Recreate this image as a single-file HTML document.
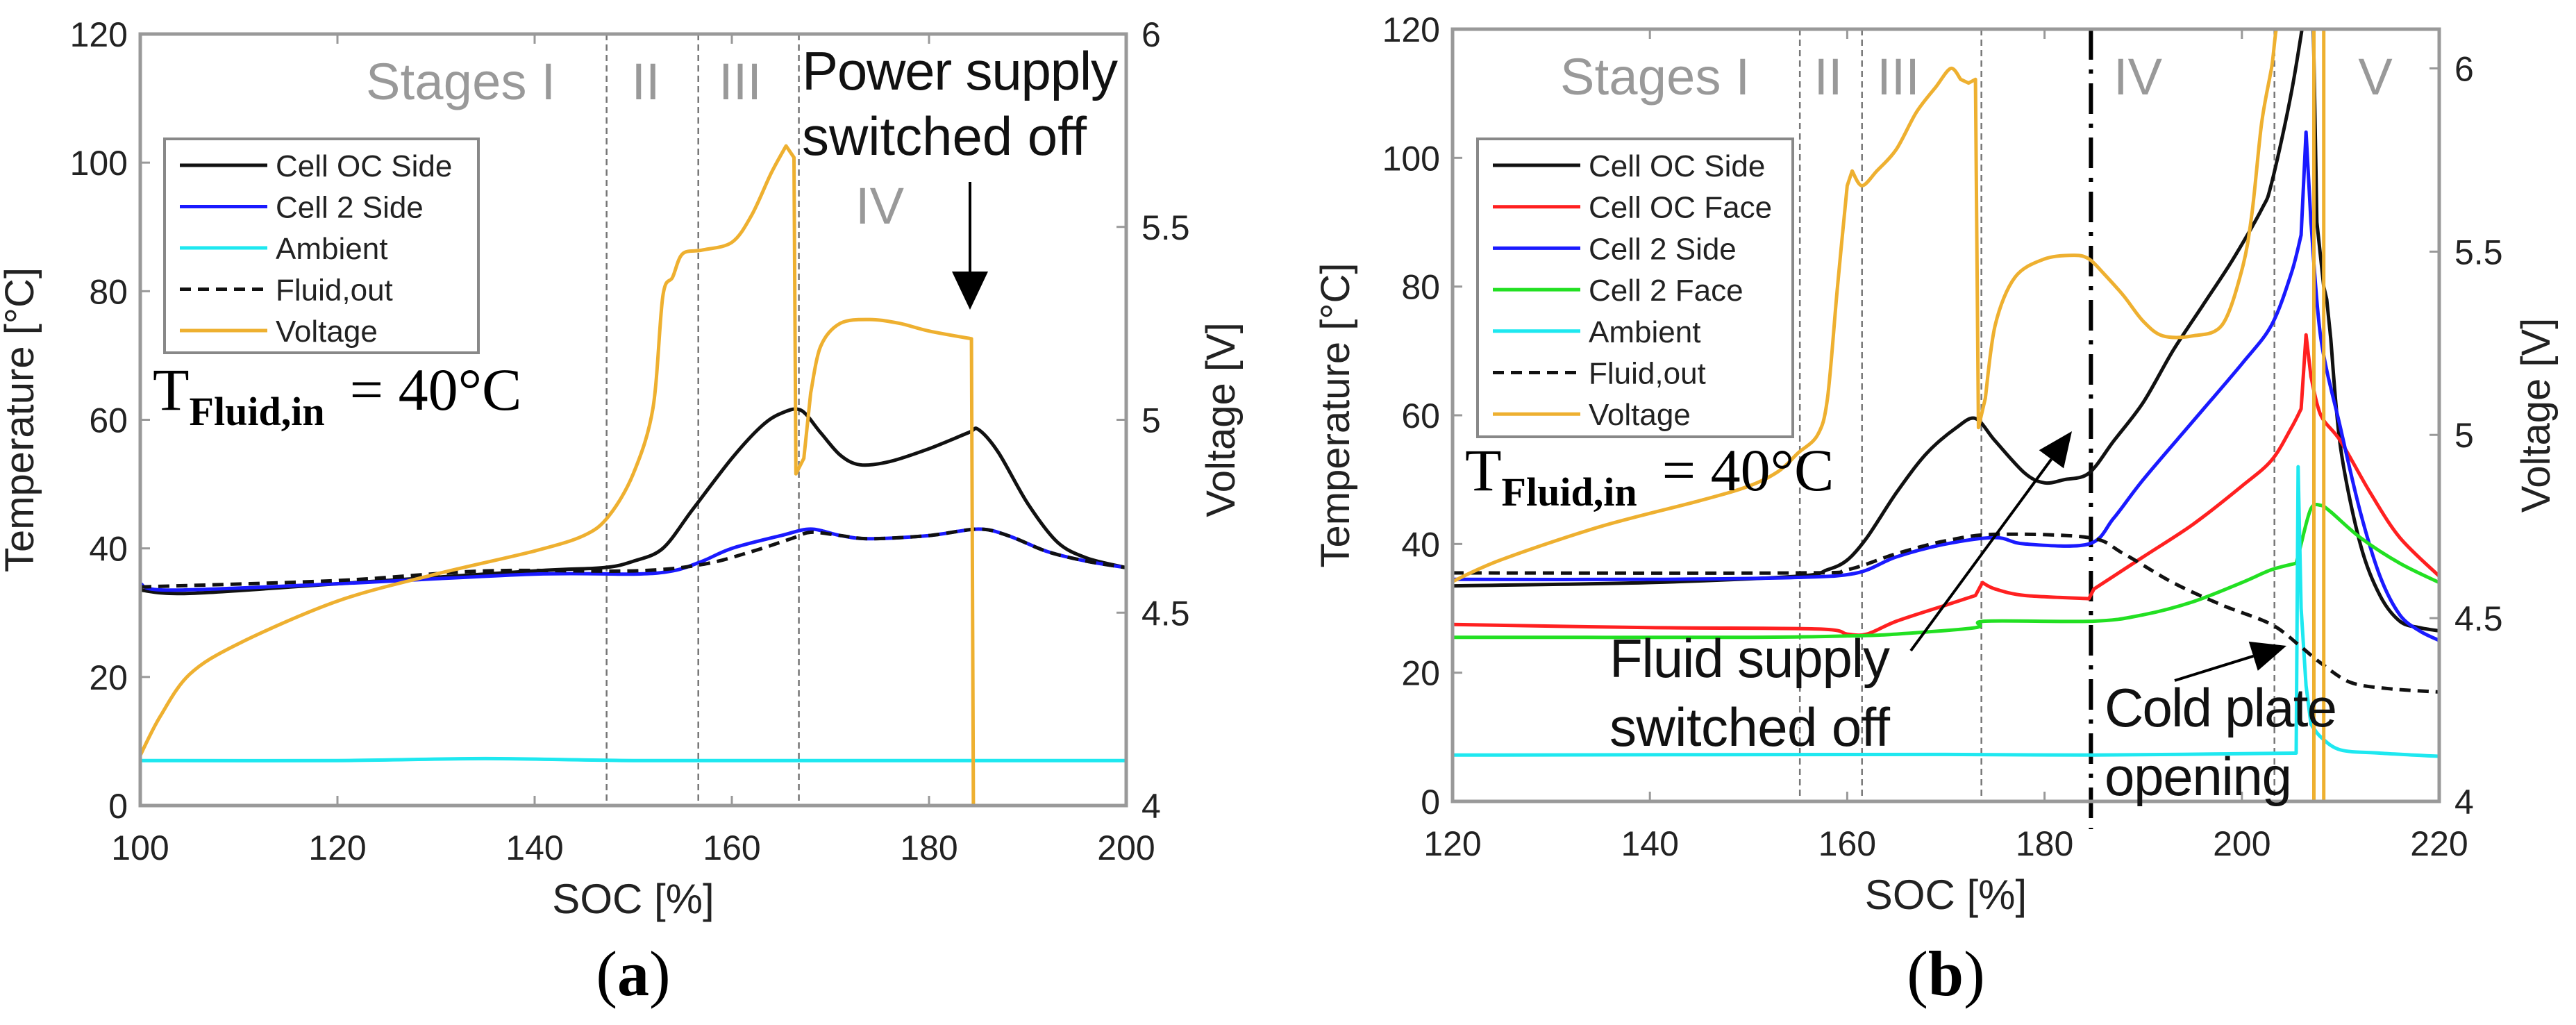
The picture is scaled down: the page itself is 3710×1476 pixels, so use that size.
<!DOCTYPE html>
<html><head><meta charset="utf-8"><style>
html,body{margin:0;padding:0;background:#fff;}
svg{display:block;}
.sans{font-family:"Liberation Sans",sans-serif;}
</style></head><body>
<svg id="fig" class="sans" width="3710" height="1476" xmlns="http://www.w3.org/2000/svg"></svg>
<script>
// ===== Chart (a) data =====
const aTicksX = [100,120,140,160,180,200];
const aTicksY = [0,20,40,60,80,100,120];
const aTicksV = [4,4.5,5,5.5,6];
const aStageLines = [147.3,156.6,166.8];
const aOcX = [100,105,120,140,147,150,153,156,160,163,165,167,169,171,173,176,180,184,185,187,190,193,196,200];
const aOcY = [33.5,33,34.5,36.5,37,38,40,46,54,59,61,61.5,58,54.5,53,53.5,55.5,58,58.5,55,47,41,38.5,37];
const aC2X = [100,103,120,140,150,154,157,160,165,168,171,174,180,185,188,192,196,200];
const aC2Y = [34.5,33.5,34.5,36,36,36.5,38,40,42,43,42,41.5,42,43,42,39.5,38,37];
const aFlX = [100,120,135,150,157,162,166,168,171,174,180,185,188,192,196,200];
const aFlY = [34,35,36.5,36.5,37.5,39.5,41.5,42.5,42,41.5,42,43,42,39.5,38,37];
const aAmX = [100,120,135,150,170,200];
const aAmY = [7,7,7.3,7,7,7];
const aVX = [100,102,105,110,120,130,140,145,147.5,150,152,153,154,155,157,160,162,164,165.5,166.3,166.5,167.3,168,169,171,174,177,180,184.3,184.5];
const aVY = [4.13,4.23,4.34,4.42,4.53,4.6,4.66,4.7,4.75,4.86,5.03,5.32,5.37,5.43,5.44,5.46,5.53,5.64,5.71,5.68,4.86,4.9,5.07,5.19,5.25,5.26,5.25,5.23,5.21,4.0];
// ===== Chart (b) data =====
const bTicksX = [120,140,160,180,200,220];
const bTicksY = [0,20,40,60,80,100,120];
const bTicksV = [4,4.5,5,5.5,6];
const bStageLines = [155.2,161.5,173.6,203.3];
const bSwitch = 184.7;
const bOcX = [120,140,155,158,160,162,165,168,171,173,175,178,180,182,184.5,187,190,193,196,199,202,203,205,206.5,207.2,207.6,208.3,208.6,209,210,212,214,216,218,220];
const bOcY = [33.5,34,35,36,37.5,41,48,54,58,59.5,56,51,49.5,50,51,56,62,70,77,84,92,96,110,124,124,90,80,78,72,55,40,32,28,27,26.5];
const bOfX = [120,140,157,160,162,165,170,173,173.7,175,178,184.5,185,190,195,200,203,205,206,206.5,207,208,210,213,216,220];
const bOfY = [27.5,27,26.8,26,26,28,30.5,32,34,33,32,31.5,33,38,43,49,53,58,61,72.5,66,60,56,48,41,35];
const bC2X = [120,140,155,161,165,170,175,178,184.5,187,190,195,200,203,205,206,206.5,207,208,210,212,214,216,218,220];
const bC2Y = [34.5,34.5,34.8,35.5,38,40,41,40,40,44,50,59,68,74,82,88,104,90,72,58,45,35,29,26.5,25];
const bC2fX = [120,150,160,165,173,174,185,190,195,200,203,205.5,206,207,208,209,212,216,220];
const bC2fY = [25.5,25.5,25.7,26,27,28,28,29,31,34,36,37,40,45.5,46,45,41,37,34];
const bAmX = [120,170,185,205.5,205.7,206,206.5,207,208,210,214,220];
const bAmY = [7.2,7.3,7.2,7.5,52,30,18,12,10,8,7.5,7];
const bFlX = [120,155,160,165,170,175,184.5,188,193,198,203,206,208,211,215,220];
const bFlY = [35.5,35.5,36,38.5,40.5,41.5,41,38.5,34,30.5,27.5,24,21.5,18.5,17.5,17];
const bVX = [120,125,135,145,150,153,155,157,158,159,160,160.5,161.5,163,165,167,169,170.5,171.5,172.3,173,173.3,174,175,177,180,183,184.5,186,188,190,192,195,198,200,201,202,203,204,207.3,207.3,207.8,208.3,208.3,208.6];
const bVY = [4.6,4.66,4.75,4.82,4.86,4.9,4.95,5.0,5.1,5.4,5.68,5.72,5.68,5.72,5.78,5.88,5.95,6.0,5.97,5.96,5.97,5.02,5.1,5.3,5.43,5.48,5.49,5.48,5.44,5.38,5.31,5.27,5.27,5.3,5.45,5.6,5.85,6.0,6.15,6.15,4.0,4.0,4.0,6.15,6.15];

const NS="http://www.w3.org/2000/svg";
const svg=document.getElementById('fig');
function mk(tag,attrs,parent){const e=document.createElementNS(NS,tag);for(const k in attrs)e.setAttribute(k,attrs[k]);(parent||svg).appendChild(e);return e;}
function txt(s,attrs,parent){const e=mk('text',attrs,parent);e.textContent=s;return e;}
const SERIF='font-family:"Liberation Serif",serif';

function smoothPath(pts){
  // monotone-ish Catmull-Rom, with sharp corners where segments are very steep (jumps)
  let d='M'+pts[0][0].toFixed(1)+','+pts[0][1].toFixed(1);
  for(let i=0;i<pts.length-1;i++){
    const p0=pts[Math.max(0,i-1)],p1=pts[i],p2=pts[i+1],p3=pts[Math.min(pts.length-1,i+2)];
    const steep=Math.abs(p2[0]-p1[0])<12;
    if(steep){d+='L'+p2[0].toFixed(1)+','+p2[1].toFixed(1);continue;}
    const t=0.16;
    const s0=Math.abs(p1[0]-p0[0])<12?p1:p0, s3=Math.abs(p3[0]-p2[0])<12?p2:p3;
    const c1=[p1[0]+(p2[0]-s0[0])*t,p1[1]+(p2[1]-s0[1])*t];
    const c2=[p2[0]-(s3[0]-p1[0])*t,p2[1]-(s3[1]-p1[1])*t];
    d+='C'+c1[0].toFixed(1)+','+c1[1].toFixed(1)+' '+c2[0].toFixed(1)+','+c2[1].toFixed(1)+' '+p2[0].toFixed(1)+','+p2[1].toFixed(1);
  }
  return d;
}

function chart(cfg){
  const g=mk('g',{});
  
  
  const L=cfg.L,R=cfg.R,T=cfg.T,B=cfg.B;
  const sx=v=>L+(v-cfg.x0)/(cfg.x1-cfg.x0)*(R-L);
  const sy=v=>B-(v-0)/(120-0)*(B-T);
  const sv=v=>B-(v-4)/(cfg.v1-4)*(B-T);
  const defs=mk('defs',{},g);
  const cp=mk('clipPath',{id:cfg.id+'clip'},defs);
  mk('rect',{x:L,y:T,width:R-L,height:B-T},cp);
  cfg.tx.forEach(v=>{
    const t=txt(String(v),{x:sx(v),y:B+78,'font-size':50,'text-anchor':'middle',fill:'#222'},g);
    
    
    mk('line',{x1:sx(v),x2:sx(v),y1:B,y2:B-14,stroke:'#999','stroke-width':3},g);
    mk('line',{x1:sx(v),x2:sx(v),y1:T,y2:T+14,stroke:'#999','stroke-width':3},g);
  });
  cfg.ty.forEach(v=>{
    const t=txt(String(v),{x:L-18,y:sy(v)+18,'font-size':50,'text-anchor':'end',fill:'#222'},g);
    
    
    mk('line',{x1:L,x2:L+14,y1:sy(v),y2:sy(v),stroke:'#999','stroke-width':3},g);
  });
  cfg.tv.forEach(v=>{
    const t=txt(String(v),{x:R+22,y:sv(v)+18,'font-size':50,'text-anchor':'start',fill:'#222'},g);
    
    
    mk('line',{x1:R,x2:R-14,y1:sv(v),y2:sv(v),stroke:'#999','stroke-width':3},g);
  });
  const xt=txt('SOC [%]',{x:(L+R)/2,y:B+155,'font-size':60,'text-anchor':'middle',fill:'#222'},g);
  
  
  const ly=(T+B)/2;
  const yt=txt('Temperature [°C]',{x:0,y:0,'font-size':58,'text-anchor':'middle',fill:'#222',transform:`translate(${cfg.ylx},${ly}) rotate(-90)`},g);
  
  
  const vt=txt('Voltage [V]',{x:0,y:0,'font-size':58,'text-anchor':'middle',fill:'#222',transform:`translate(${cfg.vlx},${ly}) rotate(-90)`},g);
  
  
  const cap=txt('',{x:(L+R)/2,y:1433,'font-size':92,'text-anchor':'middle',style:SERIF,fill:'#000'},g);
  
  
  mk('tspan',{},cap).textContent='(';
  mk('tspan',{'font-weight':'bold'},cap).textContent=cfg.cap;
  mk('tspan',{},cap).textContent=')';
  cfg.stages.forEach(v=>{
    const l=mk('line',{x1:sx(v),x2:sx(v),y1:T,y2:B,stroke:'#777','stroke-width':2.5,'stroke-dasharray':'9 6'},g);
    
    
  });
  if(cfg.sw){
    const l=mk('line',{x1:sx(cfg.sw),x2:sx(cfg.sw),y1:T,y2:B+40,stroke:'#000','stroke-width':6,'stroke-dasharray':'44 14 6 14'},g);
    
    
  }
  const pg=mk('g',{'clip-path':`url(#${cfg.id}clip)`},g);
  cfg.series.forEach(s=>{
    const f=s.ax==='v'?sv:sy;
    const pts=s.x.map((x,i)=>[sx(x),f(s.y[i])]);
    const p=mk('path',{d:smoothPath(pts),fill:'none',stroke:s.c,'stroke-width':5,'stroke-linejoin':'round','stroke-dasharray':s.dash||'none'},pg);
    
    
  });
  const fr=mk('rect',{x:L,y:T,width:R-L,height:B-T,fill:'none',stroke:'#999','stroke-width':5},g);
  
  
  const lg=mk('g',{},g);
  
  
  mk('rect',{x:cfg.lg.x,y:cfg.lg.y,width:cfg.lg.w,height:cfg.lg.h,fill:'#fff',stroke:'#888','stroke-width':4},lg);
  cfg.series.forEach((s,i)=>{
    const yy=cfg.lg.y+38+i*cfg.lg.step;
    const e=mk('g',{},lg);
    
    
    mk('line',{x1:cfg.lg.x+22,x2:cfg.lg.x+148,y1:yy,y2:yy,stroke:s.c,'stroke-width':5,'stroke-dasharray':s.dash||'none'},e);
    txt(s.label,{x:cfg.lg.x+160,y:yy+16,'font-size':44,fill:'#222'},e);
  });
  cfg.labels.forEach(o=>{
    const t=txt(o.s,{x:o.x,y:o.y,'font-size':o.fs||74,fill:o.c||'#999','text-anchor':o.a||'start'},g);
    if(o.tl) t.setAttribute('textLength',o.tl);
    
    
  });
  const tf=txt('',{x:cfg.tf.x,y:cfg.tf.y,style:SERIF,fill:'#000','font-size':86},g);
  
  
  mk('tspan',{},tf).textContent='T';
  mk('tspan',{'font-size':58,dy:22,'font-weight':'bold'},tf).textContent='Fluid,in';
  mk('tspan',{dy:-22,dx:36},tf).textContent='= 40°C';
  cfg.arrows.forEach(a=>{
    const ag=mk('g',{},g);
    
    
    const dx=a.x2-a.x1,dy=a.y2-a.y1,len=Math.hypot(dx,dy),ux=dx/len,uy=dy/len;
    const hl=a.hl||50,hw=a.hw||22;
    const bx=a.x2-ux*hl,by=a.y2-uy*hl;
    mk('line',{x1:a.x1,y1:a.y1,x2:bx,y2:by,stroke:'#000','stroke-width':4},ag);
    mk('polygon',{points:`${a.x2},${a.y2} ${bx-uy*hw},${by+ux*hw} ${bx+uy*hw},${by-ux*hw}`,fill:'#000'},ag);
  });
}

chart({name:'chart-a',id:'a',cap:'a',L:202,R:1622,T:49,B:1160,x0:100,x1:200,v1:6,
  tx:aTicksX,ty:aTicksY,tv:aTicksV,ylx:48,vlx:1778,stages:aStageLines,
  series:[
    {n:'cell-oc-side-line',label:'Cell OC Side',c:'#111',x:aOcX,y:aOcY},
    {n:'cell-2-side-line',label:'Cell 2 Side',c:'#1a1aff',x:aC2X,y:aC2Y},
    {n:'ambient-line',label:'Ambient',c:'#1ee8f0',x:aAmX,y:aAmY},
    {n:'fluid-out-line',label:'Fluid,out',c:'#111',dash:'16 10',x:aFlX,y:aFlY},
    {n:'voltage-line',label:'Voltage',c:'#eeb030',ax:'v',x:aVX,y:aVY}],
  lg:{x:237,y:200,w:452,h:308,step:59.5},
  labels:[
    {s:'Stages I',x:527,y:143,tl:273,n:'stage-label-i'},
    {s:'II',x:930,y:143,a:'middle',n:'stage-label-ii'},
    {s:'III',x:1066,y:143,a:'middle',n:'stage-label-iii'},
    {s:'IV',x:1267,y:322,a:'middle',n:'stage-label-iv'},
    {s:'Power supply',x:1155,y:129,c:'#111',fs:78,tl:455,n:'power-off-annotation'},
    {s:'switched off',x:1155,y:223,c:'#111',fs:78,tl:410,n:'power-off-annotation-line2'}],
  tf:{x:220,y:590},
  arrows:[{n:'power-off-arrow',x1:1397,y1:262,x2:1397,y2:446,hl:55,hw:26}]
});

chart({name:'chart-b',id:'b',cap:'b',L:2092,R:3513,T:42,B:1154,x0:120,x1:220,v1:6.107,
  tx:bTicksX,ty:bTicksY,tv:bTicksV,ylx:1943,vlx:3672,stages:bStageLines,sw:bSwitch,
  series:[
    {n:'cell-oc-side-line',label:'Cell OC Side',c:'#111',x:bOcX,y:bOcY},
    {n:'cell-oc-face-line',label:'Cell OC Face',c:'#ff2020',x:bOfX,y:bOfY},
    {n:'cell-2-side-line',label:'Cell 2 Side',c:'#1a1aff',x:bC2X,y:bC2Y},
    {n:'cell-2-face-line',label:'Cell 2 Face',c:'#22e022',x:bC2fX,y:bC2fY},
    {n:'ambient-line',label:'Ambient',c:'#1ee8f0',x:bAmX,y:bAmY},
    {n:'fluid-out-line',label:'Fluid,out',c:'#111',dash:'16 10',x:bFlX,y:bFlY},
    {n:'voltage-line',label:'Voltage',c:'#eeb030',ax:'v',x:bVX,y:bVY}],
  lg:{x:2128,y:200,w:454,h:429,step:59.7},
  labels:[
    {s:'Stages I',x:2247,y:136,tl:273,n:'stage-label-i'},
    {s:'II',x:2633,y:136,a:'middle',n:'stage-label-ii'},
    {s:'III',x:2734,y:136,a:'middle',n:'stage-label-iii'},
    {s:'IV',x:3079,y:136,a:'middle',n:'stage-label-iv'},
    {s:'V',x:3421,y:136,a:'middle',n:'stage-label-v'},
    {s:'Fluid supply',x:2318,y:975,c:'#111',fs:78,tl:404,n:'fluid-off-annotation'},
    {s:'switched off',x:2318,y:1074,c:'#111',fs:78,tl:404,n:'fluid-off-annotation-line2'},
    {s:'Cold plate',x:3031,y:1046,c:'#111',fs:78,tl:335,n:'cold-plate-annotation'},
    {s:'opening',x:3031,y:1145,c:'#111',fs:78,tl:270,n:'cold-plate-annotation-line2'}],
  tf:{x:2110,y:706},
  arrows:[{n:'fluid-off-arrow',x1:2752,y1:937,x2:2984,y2:621},
          {n:'cold-plate-arrow',x1:3132,y1:980,x2:3293,y2:930}]
});
</script>
</body></html>
